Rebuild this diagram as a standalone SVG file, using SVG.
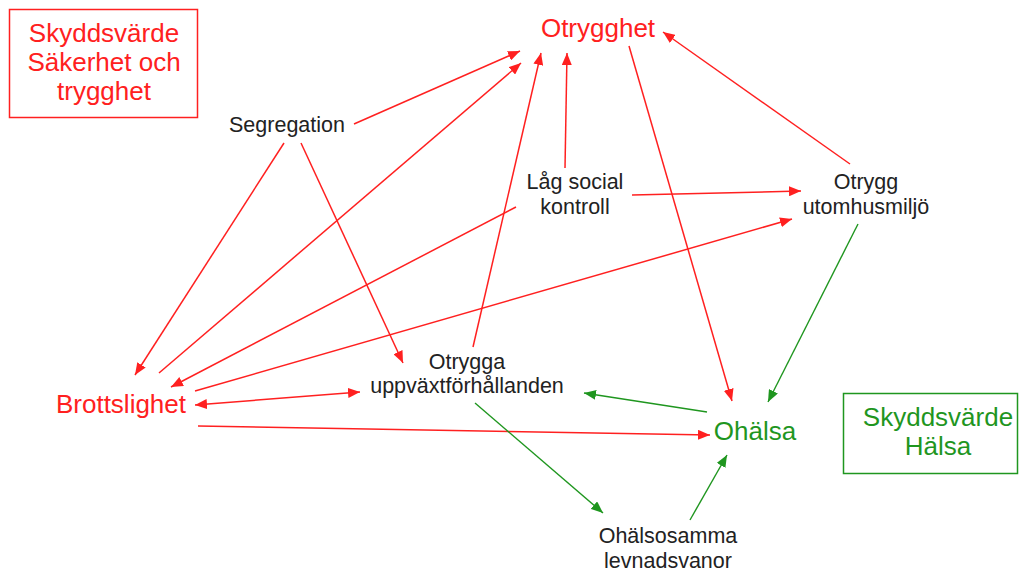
<svg xmlns="http://www.w3.org/2000/svg" width="1021" height="572" viewBox="0 0 1021 572">
<style>
text{font-family:"Liberation Sans",Arial,sans-serif;text-anchor:middle}
.r{fill:#ff2020;font-size:26px}
.g{fill:#1f961f;font-size:26px}
.k{fill:#222;font-size:21.5px}
.lr{stroke:#ff2020;stroke-width:1.5;fill:none;marker-end:url(#ar)}
.lg{stroke:#1f961f;stroke-width:1.4;fill:none;marker-end:url(#ag)}
</style>
<defs>
<marker id="ar" viewBox="0 0 12 10" refX="12" refY="5" markerWidth="12" markerHeight="10" markerUnits="userSpaceOnUse" orient="auto-start-reverse"><path d="M0,0 L12,5 L0,10 z" fill="#ff2020"/></marker>
<marker id="ag" viewBox="0 0 12 10" refX="12" refY="5" markerWidth="12" markerHeight="10" markerUnits="userSpaceOnUse" orient="auto"><path d="M0,0 L12,5 L0,10 z" fill="#1f961f"/></marker>
</defs>
<rect width="1021" height="572" fill="#fff"/>
<g id="legend-sakerhet">
<rect x="9.5" y="9.5" width="188" height="108" fill="none" stroke="#ff2020" stroke-width="1.5"/>
<text class="r" x="104" y="42">Skyddsvärde</text>
<text class="r" x="104" y="71">Säkerhet och</text>
<text class="r" x="104" y="100">trygghet</text>
</g>
<g id="legend-halsa">
<rect x="843.5" y="393.5" width="174" height="80" fill="none" stroke="#1f961f" stroke-width="1.5"/>
<text class="g" x="938" y="426">Skyddsvärde</text>
<text class="g" x="938" y="455">Hälsa</text>
</g>
<g id="connectors">
<line class="lr" x1="354" y1="124" x2="520" y2="51"/>
<line class="lr" x1="159" y1="373" x2="521" y2="63"/>
<line class="lr" x1="473" y1="347" x2="541" y2="53"/>
<line class="lr" x1="565" y1="168" x2="567" y2="53"/>
<line class="lr" x1="629" y1="46" x2="732" y2="401"/>
<line class="lr" x1="850" y1="164" x2="663" y2="32"/>
<line class="lr" x1="632" y1="195" x2="801" y2="191"/>
<line class="lr" x1="195" y1="391" x2="792" y2="219"/>
<line class="lr" x1="195" y1="405" x2="360" y2="392" marker-start="url(#ar)"/>
<line class="lr" x1="198" y1="426" x2="710" y2="435"/>
<line class="lr" x1="284" y1="143" x2="135" y2="375"/>
<line class="lr" x1="301" y1="143" x2="403" y2="363"/>
<line class="lr" x1="516" y1="207" x2="171" y2="387"/>
<line class="lg" x1="858" y1="224" x2="768" y2="402"/>
<line class="lg" x1="707" y1="412" x2="584" y2="393"/>
<line class="lg" x1="475" y1="403" x2="603" y2="513"/>
<line class="lg" x1="690" y1="520" x2="727" y2="455"/>
</g>
<g id="otrygghet"><text class="r" x="598" y="37">Otrygghet</text></g>
<g id="segregation"><text class="k" x="287" y="132">Segregation</text></g>
<g id="lag-social-kontroll"><text class="k" x="575" y="189">Låg social</text><text class="k" x="575" y="214">kontroll</text></g>
<g id="otrygg-utomhusmiljo"><text class="k" x="866" y="189">Otrygg</text><text class="k" x="866" y="214">utomhusmiljö</text></g>
<g id="brottslighet"><text class="r" x="121" y="413">Brottslighet</text></g>
<g id="otrygga-uppvaxt"><text class="k" x="467" y="369">Otrygga</text><text class="k" x="467" y="393">uppväxtförhållanden</text></g>
<g id="ohalsa"><text class="g" x="755" y="440">Ohälsa</text></g>
<g id="ohalsosamma"><text class="k" x="668" y="543">Ohälsosamma</text><text class="k" x="668" y="568">levnadsvanor</text></g>
</svg>
